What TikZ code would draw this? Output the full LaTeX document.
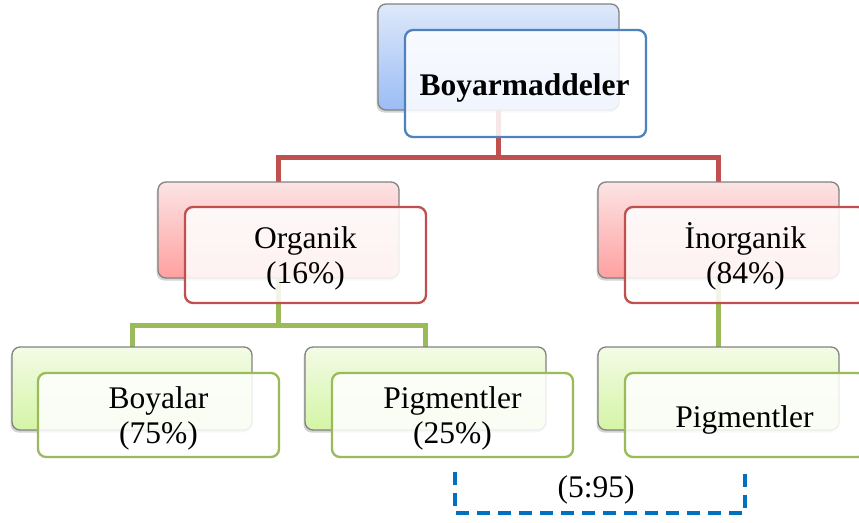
\documentclass[tikz,border=0pt]{standalone}
\usepackage{fontspec}
\setmainfont{Liberation Serif}
\usetikzlibrary{shadows}
\definecolor{bluebd}{RGB}{79,129,189}
\definecolor{redbd}{RGB}{192,80,77}
\definecolor{greenbd}{RGB}{155,187,89}
\definecolor{dashblue}{RGB}{0,112,192}
\definecolor{bluetop}{RGB}{222,233,250}
\definecolor{bluebot}{RGB}{155,188,245}
\definecolor{redtop}{RGB}{252,228,228}
\definecolor{redbot}{RGB}{255,160,160}
\definecolor{greentop}{RGB}{243,251,230}
\definecolor{greenbot}{RGB}{212,245,165}
\definecolor{backbd}{RGB}{130,130,130}
\begin{document}
\begin{tikzpicture}[x=1pt,y=-1pt,
  backbox/.style={draw=backbd, line width=1.3pt, rounded corners=8pt,
    minimum width=241pt, inner sep=0pt,
    drop shadow={shadow xshift=-1.5pt, shadow yshift=-2.5pt, opacity=0.35}},
  bluebackbox/.style={backbox, top color=bluetop, bottom color=bluebot},
  redbackbox/.style={backbox, top color=redtop, bottom color=redbot},
  greenbackbox/.style={backbox, top color=greentop, bottom color=greenbot},
  frontbox/.style={draw=#1, line width=2.3pt, rounded corners=8pt, fill=white,
    fill opacity=0.86, draw opacity=1, minimum width=241pt, inner sep=0pt},
  lbl/.style={inner sep=0pt, anchor=base, font=\fontsize{31.5}{34}\selectfont},
  redline/.style={draw=redbd, line width=5pt},
  greenline/.style={draw=greenbd, line width=5pt},
  bracket/.style={draw=dashblue, line width=3.5pt, dash pattern=on 13pt off 8pt}
]
\clip (0,0) rectangle (859,522);
% connector junctions
\coordinate (rj) at (498.5,157);
\coordinate (gj) at (278.5,325);
% connectors (drawn first, under the boxes)
\node[minimum width=241pt, minimum height=106pt, inner sep=0pt] (tbpos) at (498.5,57) {};
\node[minimum width=241pt, minimum height=96pt, inner sep=0pt] (obpos) at (278.5,230) {};
\node[minimum width=241pt, minimum height=96pt, inner sep=0pt] (ibpos) at (718.5,230) {};
\node[minimum width=240pt, minimum height=83pt, inner sep=0pt] (bbpos) at (132,388.5) {};
\node[minimum width=241pt, minimum height=83pt, inner sep=0pt] (pbpos) at (425.5,388.5) {};
\node[minimum width=241pt, minimum height=83pt, inner sep=0pt] (rbpos) at (718.5,388.5) {};
\draw[redline] (tbpos.south) -- (rj) -| (obpos.north);
\draw[redline] (rj) -| (ibpos.north);
\draw[greenline] (obpos.south) -- (gj) -| (bbpos.north);
\draw[greenline] (gj) -| (pbpos.north);
\draw[greenline] (ibpos.south) -- (rbpos.north);
% back boxes
\node[bluebackbox, minimum height=106pt] (tb) at (498.5,57) {};
\node[redbackbox, minimum height=96pt] (ob) at (278.5,230) {};
\node[redbackbox, minimum height=96pt] (ib) at (718.5,230) {};
\node[greenbackbox, minimum width=240pt, minimum height=83pt] (bb) at (132,388.5) {};
\node[greenbackbox, minimum height=83pt] (pb) at (425.5,388.5) {};
\node[greenbackbox, minimum height=83pt] (rb) at (718.5,388.5) {};
% front boxes
\node[frontbox=bluebd, minimum height=107pt] (tf) at (525.5,83.5) {};
\node[frontbox=redbd, minimum height=96pt] (of) at (305.5,255) {};
\node[frontbox=redbd, minimum height=96pt] (if) at (745.5,255) {};
\node[frontbox=greenbd, minimum height=84pt] (bf) at (158.5,415) {};
\node[frontbox=greenbd, minimum height=84pt] (pf) at (452.5,415) {};
\node[frontbox=greenbd, minimum height=84pt] (rf) at (745.5,415) {};
% texts
\node[lbl, font=\fontsize{31.5}{34}\selectfont\bfseries] (t0) at (524.5,95) {Boyarmaddeler};
\node[lbl] (t1a) at (305.5,248) {Organik};
\node[lbl] (t1b) at (305.5,283) {(16\%)};
\node[lbl] (t2a) at (745.5,248) {İnorganik};
\node[lbl] (t2b) at (745.5,283) {(84\%)};
\node[lbl] (t3a) at (158.5,408) {Boyalar};
\node[lbl] (t3b) at (158.5,443) {(75\%)};
\node[lbl] (t4a) at (452.5,408) {Pigmentler};
\node[lbl] (t4b) at (452.5,443) {(25\%)};
\node[lbl] (t5) at (744.5,427) {Pigmentler};
% ratio bracket
\coordinate (dl) at (455,472);
\coordinate (dr) at (745,472);
\coordinate (db) at (600,513);
\draw[bracket] (dl) |- (db) -| (dr);
\node[lbl] (t6) at (596,497) {(5:95)};
\end{tikzpicture}
\end{document}
